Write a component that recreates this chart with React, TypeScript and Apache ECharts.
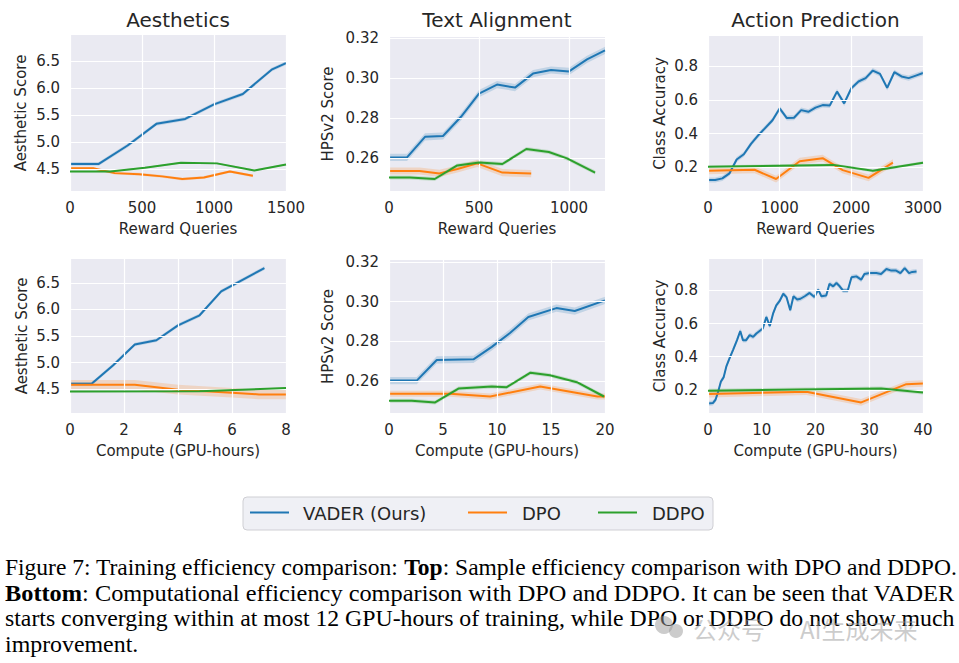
import React, { useEffect, useRef } from "react";
import * as echarts from "echarts";

type Pt = [number, number];

const SERIES_NAMES = ["VADER (Ours)", "DPO", "DDPO"];
const COLORS = ["#1f77b4", "#ff7f0e", "#2ca02c"];
const TITLES = ["Aesthetics", "Text Alignment", "Action Prediction"];
const Y_NAMES = ["Aesthetic Score", "HPSv2 Score", "Class Accuracy"];
const X_NAMES = ["Reward Queries", "Compute (GPU-hours)"];

// ---- Top row: Reward Queries ----
const aesQVader: Pt[] = [[0, 4.6], [200, 4.6], [400, 4.94], [600, 5.34], [800, 5.43], [1000, 5.7], [1200, 5.89], [1400, 6.34], [1500, 6.46]];
const aesQDpo: Pt[] = [[0, 4.52], [160, 4.52], [310, 4.43], [480, 4.41], [640, 4.37], [780, 4.32], [930, 4.35], [1110, 4.46], [1270, 4.38]];
const aesQDdpo: Pt[] = [[0, 4.46], [280, 4.46], [520, 4.53], [770, 4.62], [1020, 4.61], [1280, 4.48], [1500, 4.59]];

const txtQVader: Pt[] = [[0, 0.2603], [100, 0.2603], [200, 0.2706], [300, 0.271], [400, 0.2806], [500, 0.2922], [600, 0.2967], [700, 0.2952], [800, 0.3022], [900, 0.304], [1000, 0.3033], [1100, 0.3093], [1200, 0.3138]];
const txtQDpo: Pt[] = [[0, 0.2535], [170, 0.2535], [280, 0.2523], [380, 0.2545], [490, 0.2573], [630, 0.2527], [790, 0.2522]];
const txtQDdpo: Pt[] = [[0, 0.2502], [116, 0.2502], [254, 0.2495], [379, 0.2563], [502, 0.2577], [630, 0.257], [763, 0.2645], [888, 0.263], [989, 0.2598], [1145, 0.2527]];

const actQVader: Pt[] = [[0, 0.125], [100, 0.125], [200, 0.135], [300, 0.165], [400, 0.247], [500, 0.278], [600, 0.34], [700, 0.39], [800, 0.435], [900, 0.48], [1000, 0.55], [1100, 0.493], [1200, 0.495], [1300, 0.54], [1400, 0.53], [1500, 0.555], [1600, 0.57], [1700, 0.568], [1800, 0.65], [1900, 0.58], [2000, 0.67], [2100, 0.71], [2200, 0.73], [2300, 0.775], [2400, 0.755], [2500, 0.672], [2600, 0.765], [2700, 0.74], [2800, 0.73], [2900, 0.745], [3000, 0.76]];
const actQDpo: Pt[] = [[0, 0.18], [650, 0.186], [950, 0.131], [1280, 0.237], [1600, 0.255], [1880, 0.184], [2240, 0.138], [2580, 0.228]];
const actQDdpo: Pt[] = [[0, 0.204], [1750, 0.215], [2300, 0.18], [3000, 0.228]];

// ---- Bottom row: Compute (GPU-hours) ----
const aesCVader: Pt[] = [[0, 4.6], [0.8, 4.6], [1.6, 4.95], [2.4, 5.34], [3.2, 5.42], [4.0, 5.7], [4.8, 5.89], [5.6, 6.34], [7.2, 6.78]];
const aesCDpo: Pt[] = [[0, 4.58], [2.4, 4.58], [4.0, 4.49], [6.0, 4.43], [7.0, 4.4], [8.0, 4.4]];
const aesCDdpo: Pt[] = [[0, 4.455], [4.8, 4.46], [8.0, 4.52]];

const txtCVader: Pt[] = [[0, 0.2603], [2.57, 0.2603], [4.42, 0.2707], [7.82, 0.271], [9.52, 0.2773], [11.2, 0.2843], [12.9, 0.2923], [15.5, 0.2968], [17.2, 0.2953], [20, 0.3007]];
const txtCDpo: Pt[] = [[0, 0.2537], [5.66, 0.2537], [9.37, 0.2523], [14.0, 0.2573], [19.3, 0.2523], [20, 0.2523]];
const txtCDdpo: Pt[] = [[0, 0.2502], [2.1, 0.2502], [4.27, 0.2493], [6.43, 0.2563], [9.52, 0.2573], [10.9, 0.257], [13.1, 0.2643], [14.9, 0.263], [17.4, 0.2595], [19.9, 0.2523]];

const actCVader: Pt[] = [[0, 0.118], [0.9, 0.12], [1.4, 0.14], [1.9, 0.19], [2.4, 0.25], [2.9, 0.275], [3.4, 0.34], [4.0, 0.39], [4.65, 0.44], [5.4, 0.5], [6.0, 0.555], [6.5, 0.5], [7.1, 0.5], [7.75, 0.53], [8.4, 0.52], [9.0, 0.54], [9.6, 0.555], [10.2, 0.57], [10.85, 0.64], [11.5, 0.585], [12.1, 0.66], [12.7, 0.71], [13.3, 0.735], [14.0, 0.78], [14.6, 0.76], [15.3, 0.68], [15.9, 0.765], [16.6, 0.745], [17.2, 0.75], [18.0, 0.765], [18.9, 0.785], [19.8, 0.76], [20.5, 0.805], [21.1, 0.765], [22.0, 0.77], [22.6, 0.84], [23.3, 0.825], [23.9, 0.845], [24.5, 0.825], [25.1, 0.8], [26.0, 0.8], [26.7, 0.88], [27.6, 0.885], [28.5, 0.865], [29.1, 0.9], [30.1, 0.905], [31.3, 0.905], [32.2, 0.9], [33.2, 0.93], [34.1, 0.92], [35.0, 0.92], [35.8, 0.905], [36.6, 0.935], [37.4, 0.905], [38.0, 0.912], [38.8, 0.915]];
const actCDpo: Pt[] = [[0, 0.174], [18.3, 0.188], [28.5, 0.124], [36.9, 0.234], [40, 0.238]];
const actCDdpo: Pt[] = [[0, 0.194], [32.2, 0.208], [40, 0.184]];

// approximate half-widths of the shaded confidence bands [VADER, DPO, DDPO]
const aesQSpread = [0.035, 0.025, 0.015];
const txtQSpread = [0.0018, 0.0018, 0.001];
const actQSpread = [0.015, 0.02, 0.008];
const aesCSpread = [0.035, 0.09, 0.012];
const txtCSpread = [0.0018, 0.0015, 0.001];
const actCSpread = [0.015, 0.02, 0.012];

const X_TICKS_TOP = [500, 500, 1000];
const X_TICKS_BOTTOM = [2, 5, 10];

type Panel = {
  title?: string;
  box: [number, number, number, number];
  xName: string;
  yName: string;
  x: [number, number, number, number]; // min, max, minor, major
  y: [number, number, number, number, number]; // min, max, minor, major, decimals
  yNameGap: number;
  data: Pt[][];
  spread: number[];
};

const panels: Panel[] = [
  { title: TITLES[0], box: [70, 35, 216, 156], xName: X_NAMES[0], yName: Y_NAMES[0], x: [0, 1500, 100, X_TICKS_TOP[0]], y: [4.1, 6.98, 0.1, 0.5, 1], yNameGap: 42, data: [aesQVader, aesQDpo, aesQDdpo], spread: aesQSpread },
  { title: TITLES[1], box: [389, 37, 216, 154], xName: X_NAMES[0], yName: Y_NAMES[1], x: [0, 1200, 100, X_TICKS_TOP[1]], y: [0.2435, 0.3205, 0.0005, 0.02, 2], yNameGap: 54, data: [txtQVader, txtQDpo, txtQDdpo], spread: txtQSpread },
  { title: TITLES[2], box: [708, 36, 215, 155], xName: X_NAMES[0], yName: Y_NAMES[2], x: [0, 3000, 100, X_TICKS_TOP[2]], y: [0.06, 0.98, 0.01, 0.2, 1], yNameGap: 41, data: [actQVader, actQDpo, actQDdpo], spread: actQSpread },
  { box: [70, 259, 216, 154], xName: X_NAMES[1], yName: Y_NAMES[0], x: [0, 8, 1, X_TICKS_BOTTOM[0]], y: [4.05, 6.95, 0.05, 0.5, 1], yNameGap: 41, data: [aesCVader, aesCDpo, aesCDdpo], spread: aesCSpread },
  { box: [389, 260, 216, 153], xName: X_NAMES[1], yName: Y_NAMES[1], x: [0, 20, 1, X_TICKS_BOTTOM[1]], y: [0.244, 0.321, 0.001, 0.02, 2], yNameGap: 54, data: [txtCVader, txtCDpo, txtCDdpo], spread: txtCSpread },
  { box: [708, 259, 215, 154], xName: X_NAMES[1], yName: Y_NAMES[2], x: [0, 40, 1, X_TICKS_BOTTOM[2]], y: [0.06, 0.99, 0.01, 0.2, 1], yNameGap: 41, data: [actCVader, actCDpo, actCDdpo], spread: actCSpread },
];

const TEXT = "#262626";
const FONT = "DejaVu Sans";
const SERIF = "Liberation Serif";

const isMult = (v: number, step: number) => Math.abs(v / step - Math.round(v / step)) < 1e-6;
const majors = (min: number, max: number, step: number) => {
  const out: number[] = [];
  for (let k = Math.ceil(min / step - 1e-9); k * step <= max + 1e-9; k++) out.push(+(k * step).toFixed(6));
  return out;
};

const CAPTION: { t: string; b?: boolean }[][] = [
  [{ t: "Figure 7: Training efficiency comparison: " }, { t: "Top", b: true }, { t: ": Sample efficiency comparison with DPO and DDPO." }],
  [{ t: "Bottom", b: true }, { t: ": Computational efficiency comparison with DPO and DDPO. It can be seen that VADER" }],
  [{ t: "starts converging within at most 12 GPU-hours of training, while DPO or DDPO do not show much" }],
  [{ t: "improvement." }],
];
const CAPTION_FONT = 23;
const CAPTION_WIDTHS = [952, 950, 950, 0];
const CAPTION_Y = [567, 593, 618, 644];

function measure(parts: { t: string; b?: boolean }[], size: number) {
  const ctx = document.createElement("canvas").getContext("2d");
  if (!ctx) return 1;
  let w = 0;
  for (const p of parts) {
    ctx.font = `${p.b ? "bold " : ""}${size}px "${SERIF}"`;
    w += ctx.measureText(p.t).width;
  }
  return w;
}

export default function App() {
  const ref = useRef<HTMLDivElement>(null);
  useEffect(() => {
    if (!ref.current) return;
    const chart = echarts.init(ref.current, undefined, { renderer: "svg" });

    const series: any[] = [];
    panels.forEach((p, i) => {
      const gridLines = [
        ...majors(p.y[0], p.y[1], p.y[3]).map((v) => ({ yAxis: v })),
        ...majors(p.x[0], p.x[1], p.x[3]).map((v) => ({ xAxis: v })),
      ];
      series.push({
        type: "line",
        xAxisIndex: i,
        yAxisIndex: i,
        data: [[p.x[0], p.y[0]]],
        showSymbol: false,
        symbol: "none",
        lineStyle: { opacity: 0 },
        silent: true,
        z: 1,
        markLine: {
          silent: true,
          symbol: ["none", "none"],
          label: { show: false },
          lineStyle: { color: "#ffffff", width: 1.2, type: "solid" },
          emphasis: { disabled: true },
          data: gridLines,
        },
      });
      p.data.forEach((d, k) => {
        const s = p.spread[k];
        series.push({
          type: "custom",
          xAxisIndex: i,
          yAxisIndex: i,
          silent: true,
          z: 2,
          data: d,
          renderItem: (params: any, api: any) => {
            if (params.dataIndex !== 0) return null;
            const up = d.map((q) => api.coord([q[0], q[1] + s]));
            const lo = d.map((q) => api.coord([q[0], q[1] - s])).reverse();
            return {
              type: "polygon",
              shape: { points: up.concat(lo) },
              style: { fill: COLORS[k], opacity: 0.2 },
            };
          },
        });
      });
      p.data.forEach((d, k) => {
        series.push({
          type: "line",
          name: SERIES_NAMES[k],
          xAxisIndex: i,
          yAxisIndex: i,
          data: d,
          showSymbol: false,
          symbol: "none",
          lineStyle: { color: COLORS[k], width: 2 },
          itemStyle: { color: COLORS[k] },
          z: 3 + k,
          silent: true,
        });
      });
    });

    const graphic: any[] = [];
    // Legend
    graphic.push({
      type: "rect",
      shape: { x: 243, y: 497, width: 470, height: 33, r: 4 },
      style: { fill: "#eff0f5", stroke: "#cfcfd4", lineWidth: 1 },
    });
    const legLines = [250, 468, 598];
    const legTexts = [303, 522, 652];
    SERIES_NAMES.forEach((n, k) => {
      graphic.push({
        type: "line",
        shape: { x1: legLines[k], y1: 512.5, x2: legLines[k] + 39, y2: 512.5 },
        style: { stroke: COLORS[k], lineWidth: 2 },
      });
      graphic.push({
        type: "text",
        x: legTexts[k],
        y: 513,
        style: { text: n, fontFamily: FONT, fontSize: 18, fill: TEXT, verticalAlign: "middle", align: "left" },
      });
    });
    // Caption
    const natural = CAPTION.map((parts) => measure(parts, CAPTION_FONT));
    const scales = natural.map((w, i) => (CAPTION_WIDTHS[i] ? CAPTION_WIDTHS[i] / w : 1));
    const avgScale = (scales[0] + scales[1] + scales[2]) / 3;
    CAPTION.forEach((parts, i) => {
      const txt = parts.map((p) => `{${p.b ? "b" : "n"}|${p.t}}`).join("");
      graphic.push({
        type: "text",
        x: 5,
        y: CAPTION_Y[i],
        scaleX: CAPTION_WIDTHS[i] ? scales[i] : Math.min(avgScale, 1.05),
        style: {
          text: txt,
          verticalAlign: "middle",
          align: "left",
          rich: {
            n: { fontFamily: SERIF, fontSize: CAPTION_FONT, fill: "#000000" },
            b: { fontFamily: SERIF, fontSize: CAPTION_FONT, fontWeight: "bold", fill: "#000000" },
          },
        },
      });
    });
    // Watermark
    graphic.push({ type: "circle", shape: { cx: 664, cy: 625, r: 9 }, style: { fill: "#9a9a9a", opacity: 0.5 } });
    graphic.push({ type: "circle", shape: { cx: 676, cy: 631, r: 7 }, style: { fill: "#9a9a9a", opacity: 0.5 } });
    graphic.push({
      type: "text",
      x: 693,
      y: 628,
      style: { text: "公众号", fontFamily: "Noto Sans CJK SC", fontSize: 24, fill: "#9a9a9a", opacity: 0.5, verticalAlign: "middle" },
    });
    graphic.push({
      type: "text",
      x: 800,
      y: 628,
      style: { text: "AI生成未来", fontFamily: "Noto Sans CJK SC", fontSize: 24, fill: "#9a9a9a", opacity: 0.5, verticalAlign: "middle" },
    });

    const option: any = {
      animation: false,
      backgroundColor: "#ffffff",
      textStyle: { fontFamily: FONT },
      title: panels
        .filter((p) => p.title)
        .map((p) => ({
          text: p.title,
          left: p.box[0] + p.box[2] / 2,
          top: 10,
          textAlign: "center",
          padding: 0,
          textStyle: { fontSize: 20, fontWeight: "normal", color: TEXT, fontFamily: FONT },
        })),
      grid: panels.map((p) => ({
        left: p.box[0],
        top: p.box[1],
        width: p.box[2],
        height: p.box[3],
        show: true,
        backgroundColor: "#eaeaf2",
        borderWidth: 0,
        containLabel: false,
        outerBoundsMode: "none",
      })),
      xAxis: panels.map((p, i) => ({
        type: "value",
        gridIndex: i,
        min: p.x[0],
        max: p.x[1],
        interval: p.x[2],
        name: p.xName,
        nameLocation: "middle",
        nameGap: 30,
        nameMoveOverlap: false,
        nameTextStyle: { fontSize: 15, color: TEXT, fontFamily: FONT },
        axisLine: { show: false },
        axisTick: { show: false },
        splitLine: { show: false },
        axisLabel: {
          margin: 9,
          fontSize: 15,
          color: TEXT,
          fontFamily: FONT,
          formatter: (v: number) => (isMult(v, p.x[3]) ? String(Math.round(v)) : ""),
        },
      })),
      yAxis: panels.map((p, i) => ({
        type: "value",
        gridIndex: i,
        min: p.y[0],
        max: p.y[1],
        interval: p.y[2],
        name: p.yName,
        nameLocation: "middle",
        nameGap: p.yNameGap,
        nameMoveOverlap: false,
        nameTextStyle: { fontSize: 15, color: TEXT, fontFamily: FONT },
        axisLine: { show: false },
        axisTick: { show: false },
        splitLine: { show: false },
        axisLabel: {
          margin: 10,
          fontSize: 15,
          color: TEXT,
          fontFamily: FONT,
          formatter: (v: number) => (isMult(v, p.y[3]) ? v.toFixed(p.y[4]) : ""),
        },
      })),
      series,
      graphic,
    };
    chart.setOption(option);
    return () => chart.dispose();
  }, []);

  return (
    <div
      ref={ref}
      style={{ position: "fixed", left: 0, top: 0, width: 959, height: 663, background: "#ffffff" }}
    />
  );
}
